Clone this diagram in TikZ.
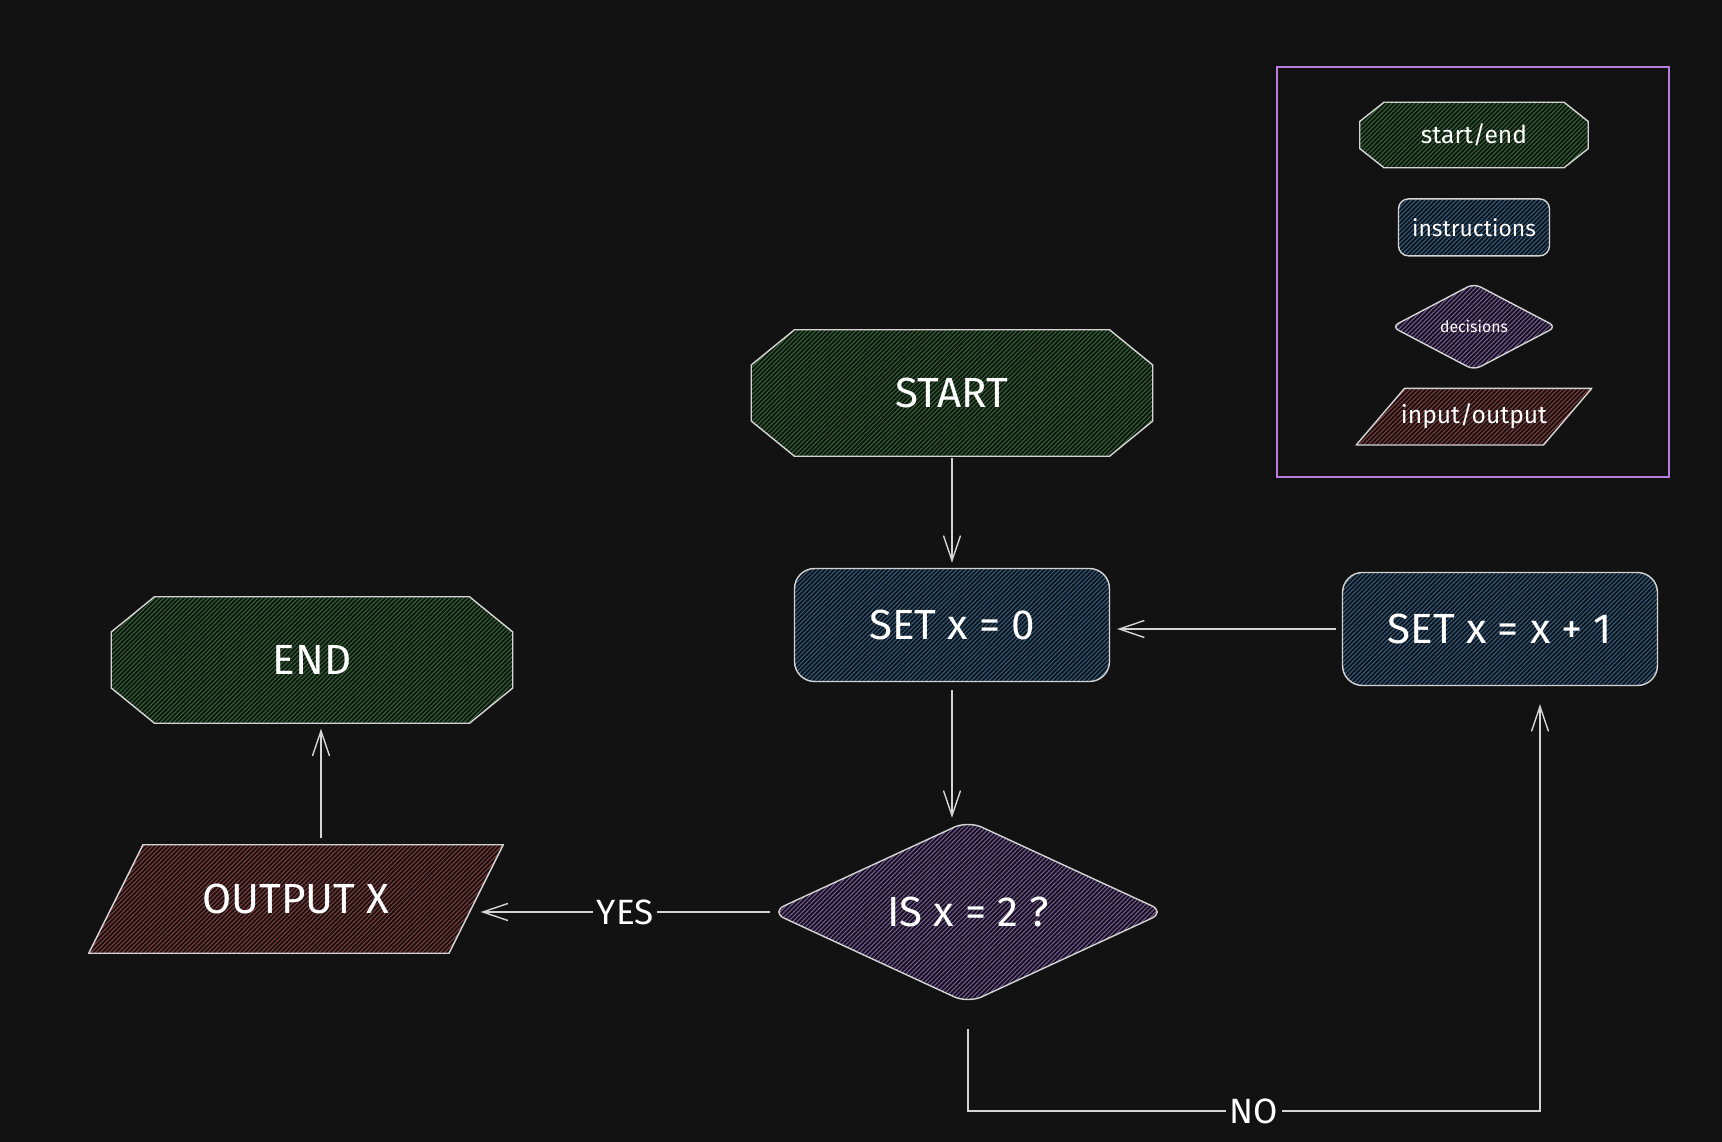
\documentclass[tikz,border=0pt]{standalone}
\usepackage{fontspec}
\setmainfont{Fira Sans}
\usetikzlibrary{arrows.meta,shapes.geometric,patterns.meta,positioning}
\definecolor{canvas}{HTML}{121212}
\definecolor{edge}{HTML}{D4D4D4}
\definecolor{termgreen}{HTML}{2F6A33}
\definecolor{instrblue}{HTML}{2E5F8C}
\definecolor{decpurple}{HTML}{7A58A6}
\definecolor{iored}{HTML}{8C3B3B}
\definecolor{legendpink}{HTML}{B77FDD}
% outlines drawn inside a node's path picture (dx, dy of the cut corners)
\newcommand{\octagon}[2]{([xshift=#1,yshift=-0.4pt]path picture bounding box.north west) -- ([xshift=-#1,yshift=-0.4pt]path picture bounding box.north east) -- ([xshift=-0.4pt,yshift=-#2]path picture bounding box.north east) -- ([xshift=-0.4pt,yshift=#2]path picture bounding box.south east) -- ([xshift=-#1,yshift=0.4pt]path picture bounding box.south east) -- ([xshift=#1,yshift=0.4pt]path picture bounding box.south west) -- ([xshift=0.4pt,yshift=#2]path picture bounding box.south west) -- ([xshift=0.4pt,yshift=-#2]path picture bounding box.north west) -- cycle}
\newcommand{\slanted}[1]{([xshift=#1,yshift=-0.4pt]path picture bounding box.north west) -- ([xshift=-0.4pt,yshift=-0.4pt]path picture bounding box.north east) -- ([xshift=-#1,yshift=0.4pt]path picture bounding box.south east) -- ([xshift=0.4pt,yshift=0.4pt]path picture bounding box.south west) -- cycle}

\begin{document}
\begin{tikzpicture}[x=0.02cm,y=-0.02cm]
\tikzstyle{main}=[line width=0.8pt, text=white, font=\fontsize{24}{28}\selectfont]
\tikzstyle{hatched}=[draw=edge, line width=0.8pt, pattern={Lines[angle=45,distance=1.8pt,line width=0.6pt]}]
\tikzstyle{term}=[main, rectangle, minimum width=8.06cm, minimum height=2.56cm, path picture={\path[hatched, pattern color=termgreen] \octagon{0.88cm}{0.72cm};}]
\tikzstyle{instr}=[main, hatched, rectangle, rounded corners=0.4cm, minimum width=6.3cm, minimum height=2.26cm, pattern color=instrblue]
\tikzstyle{decide}=[main, hatched, diamond, shape aspect=2.15, inner sep=1pt, rounded corners=0.3cm, minimum width=7.9cm, minimum height=3.66cm, pattern color=decpurple]
\tikzstyle{inout}=[main, rectangle, minimum width=8.32cm, minimum height=2.2cm, path picture={\path[hatched, pattern color=iored] \slanted{1.1cm};}]
\tikzstyle{connect}=[-{Straight Barb[length=0.5cm,width=0.34cm]}, draw=edge, line width=0.8pt]
\tikzstyle{tag}=[fill=canvas, text=white, inner sep=2pt, font=\fontsize{20}{24}\selectfont]
\tikzstyle{frame}=[draw=legendpink, line width=0.8pt]

  % canvas
  \fill[canvas] (0,0) rectangle (1722,1142);
  \useasboundingbox (0,0) rectangle (1722,1142);

  % legend
  \draw[frame] (1277,67) rectangle (1669,477);
  \node[term, minimum width=4.6cm, minimum height=1.34cm, font=\fontsize{14}{16}\selectfont, path picture={\path[hatched, pattern color=termgreen] \octagon{0.5cm}{0.4cm};}] (keyterm) at (1474,135) {start/end};
  \node[instr, minimum width=3.02cm, minimum height=1.14cm, rounded corners=0.2cm, font=\fontsize{13}{15}\selectfont] (keyinstr) [below=0.58cm of keyterm] {instructions};
  \node[decide, minimum width=3.3cm, minimum height=1.74cm, shape aspect=1.9, rounded corners=0.15cm, font=\fontsize{9}{11}\selectfont] (keydec) [below=0.52cm of keyinstr] {decisions};
  \node[inout, minimum width=4.74cm, minimum height=1.16cm, font=\fontsize{14}{16}\selectfont, path picture={\path[hatched, pattern color=iored] \slanted{0.98cm};}] (keyio) [below=0.32cm of keydec] {input/output};

  % flow
  \node[term]   (start)   at (952,393)  {START};
  \node[instr]  (setzero) at (952,625)  {SET x = 0};
  \node[instr]  (setinc)  at (1500,629) {SET x = x + 1};
  \node[decide] (isx)     at (968,912)  {IS x = 2 ?};
  \node[inout]  (output)  at (296,899)  {OUTPUT X};
  \node[term]   (end)     at (312,660)  {END};

  \coordinate (noturn) at (1540,1111);

  \draw[connect, shorten >=0.1cm] (start) -- (setzero);
  \draw[connect, shorten <=0.16cm, shorten >=0.04cm] (setzero.south) -- (setzero.south |- isx.north);
  \draw[connect, shorten <=0.12cm, shorten >=0.14cm] (setinc.west) -- (setinc.west -| setzero.east);
  \draw[connect] (isx.west) -- node[tag] {YES} ([xshift=-0.48cm]isx.west -| output.east);
  \draw[connect, shorten <=0.5cm, shorten >=0.36cm] (isx.south) |- node[tag, pos=0.75] {NO} (noturn) -- (setinc.south -| noturn);
  \draw[connect, shorten <=0.1cm, shorten >=0.08cm] ([xshift=0.5cm]output.north) -- ([xshift=0.5cm]output.north |- end.south);

\end{tikzpicture}
\end{document}
